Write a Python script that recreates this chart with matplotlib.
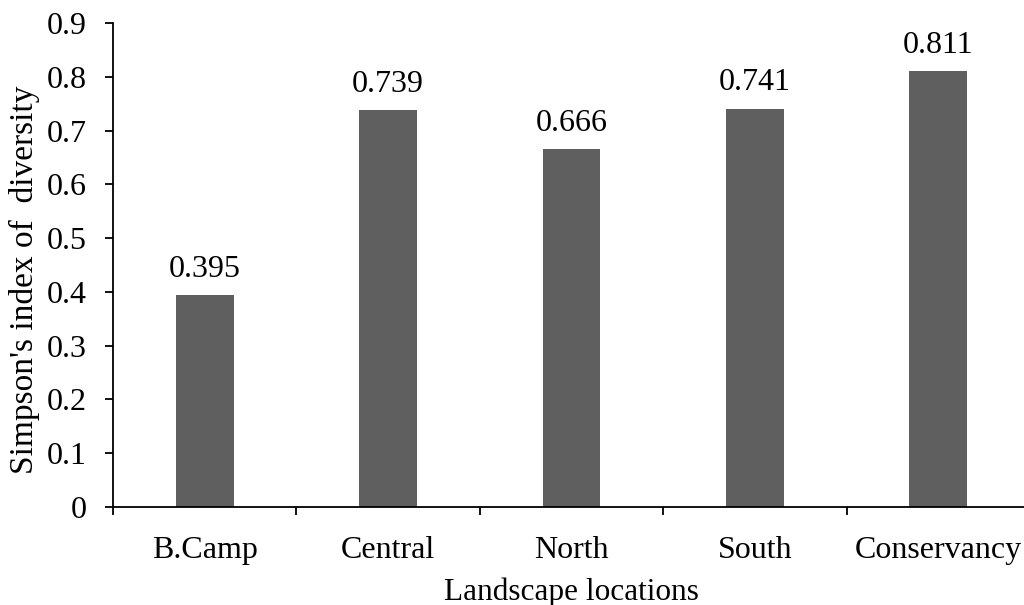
import matplotlib
matplotlib.use("Agg")
import matplotlib.pyplot as plt
from matplotlib.ticker import FixedLocator

categories = ["B.Camp", "Central", "North", "South", "Conservancy"]
values = [0.395, 0.739, 0.666, 0.741, 0.811]
value_labels = ["0.395", "0.739", "0.666", "0.741", "0.811"]
yticks = [0, 0.1, 0.2, 0.3, 0.4, 0.5, 0.6, 0.7, 0.8, 0.9]
ytick_labels = ["0", "0.1", "0.2", "0.3", "0.4", "0.5", "0.6", "0.7", "0.8", "0.9"]

plt.rcParams['font.family'] = ['Liberation Serif', 'DejaVu Serif']
plt.rcParams['font.size'] = 23

fig = plt.figure(figsize=(10.24, 6.05), dpi=100)
ax = fig.add_axes([113/1024, 98/605, 917/1024, 484/605])

x = list(range(len(categories)))
ax.bar(x, values, width=0.316, color='#5f5f5f', zorder=2)
for xi, v, lab in zip(x, values, value_labels):
    ax.annotate(lab, (xi, v), xytext=(0, 13), textcoords='offset points',
                ha='center', va='baseline', fontsize=23)

ax.set_xlim(-0.5, len(categories) - 0.5)
ax.set_ylim(0, 0.9)
ax.set_yticks(yticks)
ax.set_yticklabels(ytick_labels)
ax.set_xticks(x)
ax.set_xticklabels(categories)
ax.tick_params(axis='x', which='major', length=0, pad=21)
ax.xaxis.set_minor_locator(FixedLocator([i - 0.5 for i in range(len(categories) + 1)]))
ax.tick_params(axis='x', which='minor', length=6, width=1.3, direction='out')
ax.tick_params(axis='y', length=6, width=1.3, direction='out', pad=13)

for s in ['top', 'right']:
    ax.spines[s].set_visible(False)
for s in ['left', 'bottom']:
    ax.spines[s].set_linewidth(1.3)

ax.set_xlabel("Landscape locations", fontsize=22.5)
ax.xaxis.set_label_coords(0.5, -0.145)
ax.set_ylabel("Simpson's index of  diversity", fontsize=24)
ax.yaxis.set_label_coords(-0.08, 0.469)

fig.savefig("out.png", dpi=100)
